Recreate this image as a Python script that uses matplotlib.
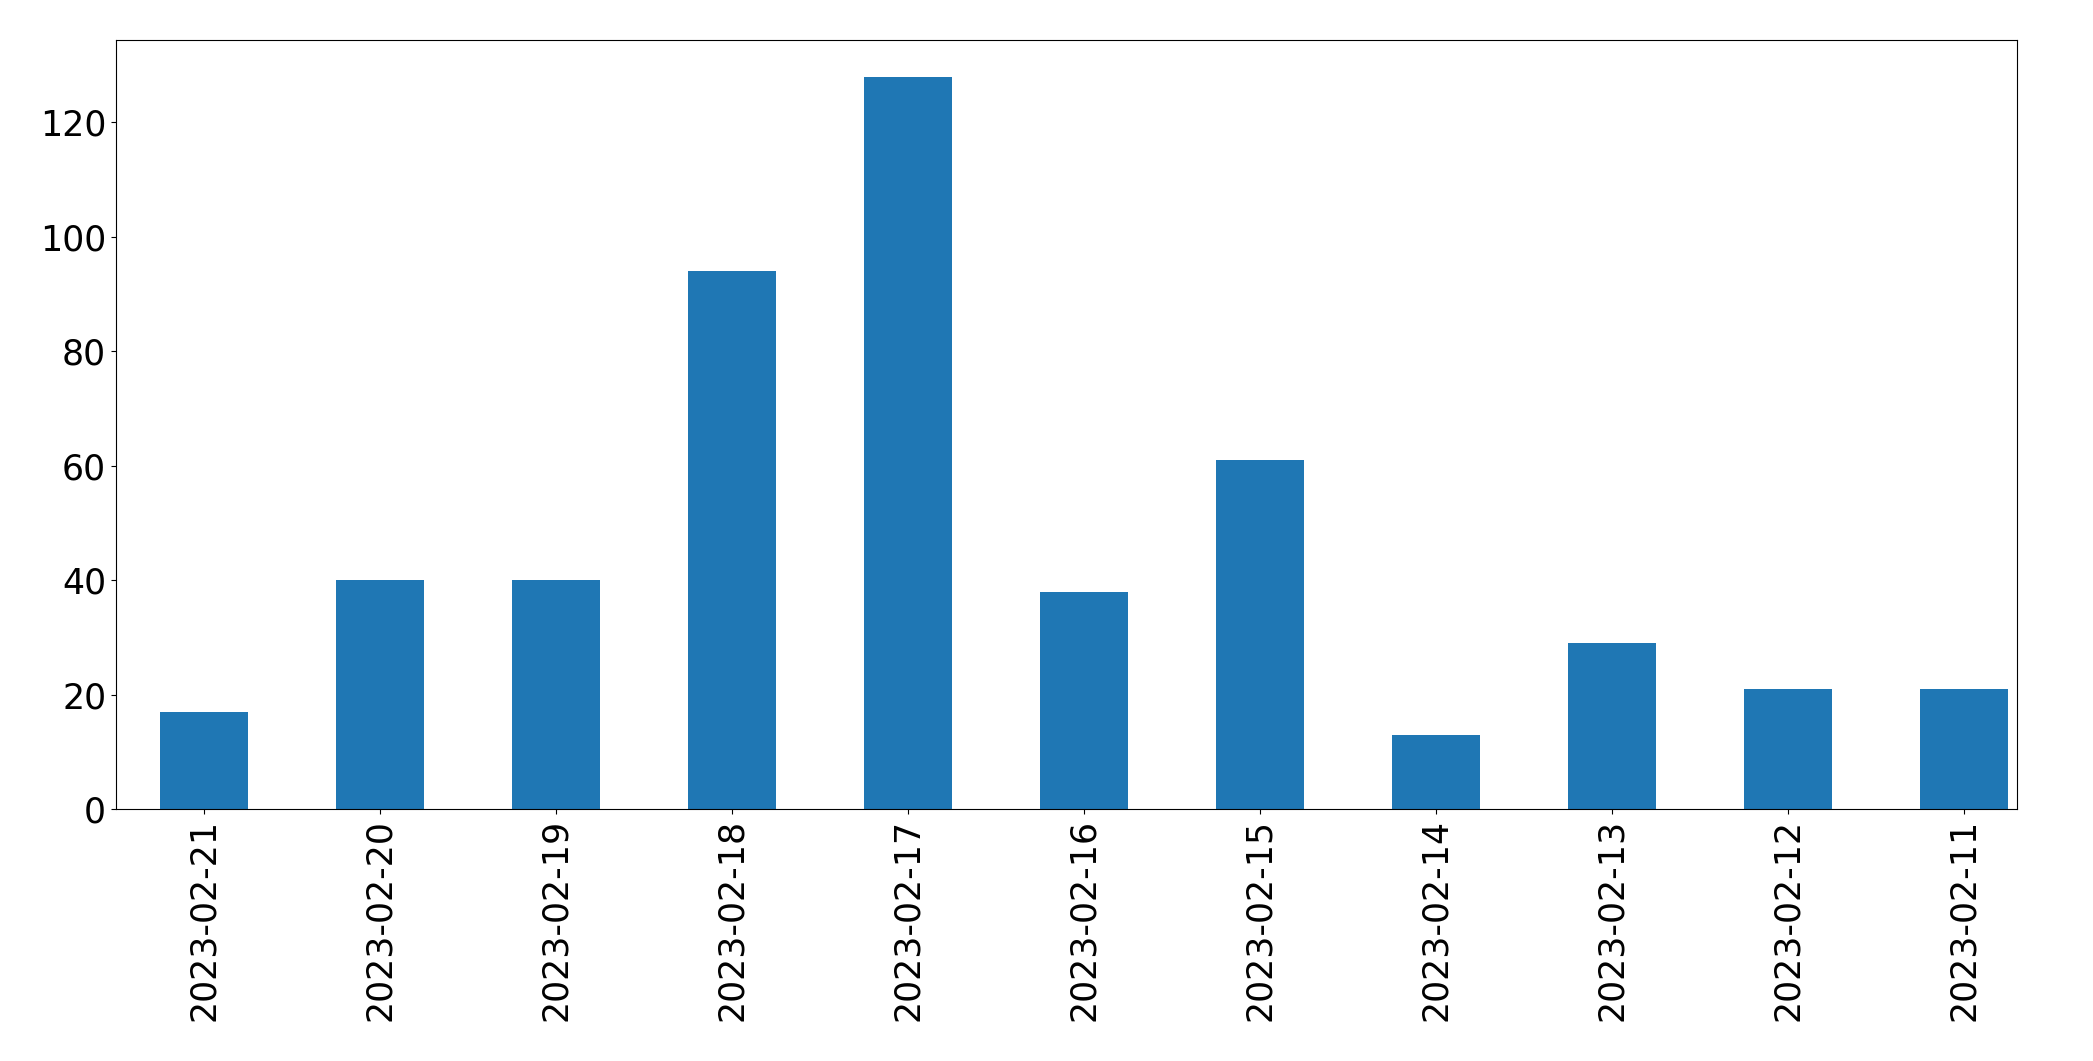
import matplotlib

matplotlib.use("Agg")

import matplotlib.pyplot as plt
import pandas as pd

dates = [
    "2023-02-21", "2023-02-20", "2023-02-19", "2023-02-18", "2023-02-17",
    "2023-02-16", "2023-02-15", "2023-02-14", "2023-02-13", "2023-02-12",
    "2023-02-11",
]
counts = [17, 40, 40, 94, 128, 38, 61, 13, 29, 21, 21]

series = pd.Series(counts, index=dates)

fig = plt.figure(figsize=(20.93, 10.61), dpi=100)
ax = fig.add_axes([0.0554, 0.2375, 0.9083, 0.7248])
series.plot(kind="bar", ax=ax, color="#1f77b4", fontsize=25)
ax.tick_params(axis="x", labelrotation=90)
ax.set_xlim(-0.5, 10.3)
fig.savefig("out.png", dpi=100)
